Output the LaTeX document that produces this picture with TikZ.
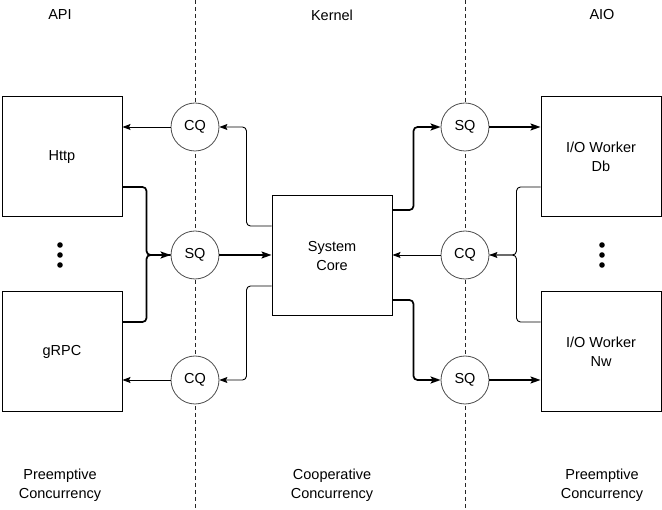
\documentclass[tikz,border=0pt]{standalone}
\usepackage{fontspec}
\setmainfont{Liberation Sans}
\usetikzlibrary{arrows.meta}
\begin{document}
\begin{tikzpicture}[x=1pt,y=-1pt,
  unit/.style={draw,line width=1pt,minimum width=120pt,minimum height=120pt,align=center,font=\fontsize{14.5}{19}\selectfont},
  queue/.style={draw,black!70,fill=white,line width=0.8pt,circle,minimum size=48pt,inner sep=0pt,text=black,font=\fontsize{14.5}{19}\selectfont},
  thinflow/.style={line width=0.9pt,rounded corners=4pt,-{Stealth[length=8pt,width=6pt,inset=1.5pt]}},
  thickflow/.style={line width=1.7pt,rounded corners=4pt,-{Stealth[length=10pt,width=7pt,inset=2pt]}},
  label/.style={align=center,font=\fontsize{14.5}{19}\selectfont}]
\useasboundingbox (0,0) rectangle (662,510);
\draw[black!85,dash pattern=on 4pt off 3pt,line width=0.7pt] (195,0) -- (195,510);
\draw[black!85,dash pattern=on 4pt off 3pt,line width=0.7pt] (465,0) -- (465,510);
\node[label] (api) at (60,15) {API};
\node[label] (kernel) at (332,15) {Kernel};
\node[label] (aio) at (602,15) {AIO};
\node[label] (pre1) at (60,485) {Preemptive\\Concurrency};
\node[label] (coop) at (332,485) {Cooperative\\Concurrency};
\node[label] (pre2) at (602,485) {Preemptive\\Concurrency};
\node[unit] (http) at (62,157) {Http};
\node[unit] (grpc) at (62,352) {gRPC};
\node[unit] (core) at (332,256) {System\\Core};
\node[unit] (db) at (601,157) {I/O Worker\\Db};
\node[unit] (nw) at (601,352) {I/O Worker\\Nw};
\node[queue] (cqa) at (195,127) {CQ};
\node[queue] (sqa) at (195,255) {SQ};
\node[queue] (cqb) at (195,380) {CQ};
\node[queue] (sqb) at (465,127) {SQ};
\node[queue] (cqc) at (465,255) {CQ};
\node[queue] (sqc) at (465,380) {SQ};
\foreach \y in {245,255,265} {
  \fill (60,\y) circle (2.8pt);
  \fill (602,\y) circle (2.8pt);
}
% api side
\draw[thinflow] (cqa.west) -- (cqa.west -| http.east);
\draw[thinflow] (cqb.west) -- (cqb.west -| grpc.east);
\draw[thickflow] ([yshift=-30pt]http.east) -- ++(24,0) |- (sqa.west);
\draw[line width=1.7pt,rounded corners=4pt] ([yshift=30pt]grpc.east) -- ++(24,0) |- (sqa.west);
\draw[thickflow] (sqa.east) -- (sqa.east -| core.west);
\draw[thinflow] ([yshift=30pt]core.west) -- ++(-25,0) |- (cqa.east);
\draw[thinflow] ([yshift=-30pt]core.west) -- ++(-25,0) |- (cqb.east);
% aio side
\draw[thickflow] ([yshift=46pt]core.east) -- ++(21,0) |- (sqb.west);
\draw[thickflow] ([yshift=-44pt]core.east) -- ++(21,0) |- (sqc.west);
\draw[thickflow] (sqb.east) -- (sqb.east -| db.west);
\draw[thickflow] (sqc.east) -- (sqc.east -| nw.west);
\draw[thinflow] ([yshift=-30pt]db.west) -- ++(-24,0) |- (cqc.east);
\draw[line width=0.9pt,rounded corners=4pt] ([yshift=30pt]nw.west) -- ++(-24,0) |- (cqc.east);
\draw[thinflow] (cqc.west) -- (cqc.west -| core.east);
\end{tikzpicture}
\end{document}
